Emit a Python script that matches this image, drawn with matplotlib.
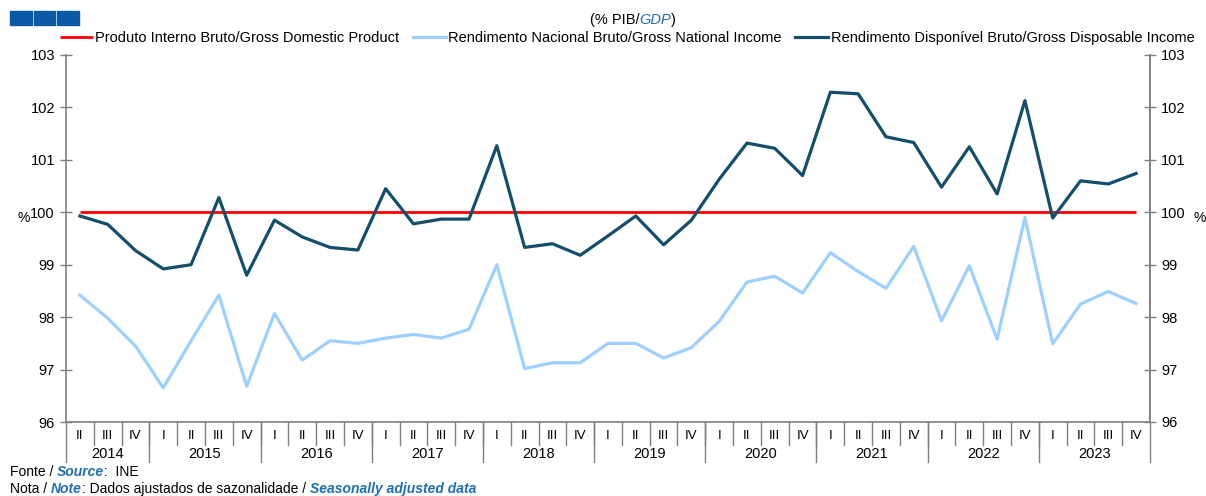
import matplotlib
matplotlib.use("Agg")
import matplotlib.pyplot as plt
import matplotlib.transforms as mtransforms
from matplotlib.patches import Rectangle

plt.rcParams['font.family'] = ['Liberation Sans', 'DejaVu Sans']

years = ["2014", "2015", "2016", "2017", "2018", "2019", "2020", "2021", "2022", "2023"]
quarters_per_year = [3, 4, 4, 4, 4, 4, 4, 4, 4, 4]
first_quarter = ["II", "III", "IV"]
all_quarters = ["I", "II", "III", "IV"]

quarter_labels = first_quarter + all_quarters * 9

pib = [100.0] * 39

rnb = [98.42, 97.98, 97.45, 96.65, 97.55, 98.42, 96.68, 98.07, 97.18, 97.55,
       97.50, 97.60, 97.67, 97.60, 97.77, 99.00, 97.02, 97.13, 97.13, 97.50,
       97.50, 97.22, 97.42, 97.92, 98.67, 98.78, 98.46, 99.23, 98.87, 98.55,
       99.35, 97.93, 98.98, 97.58, 99.90, 97.49, 98.25, 98.49, 98.26]

rdb = [99.93, 99.77, 99.27, 98.92, 99.00, 100.28, 98.80, 99.85, 99.53, 99.33,
       99.28, 100.45, 99.78, 99.87, 99.87, 101.27, 99.33, 99.40, 99.18, 99.55,
       99.93, 99.38, 99.85, 100.63, 101.32, 101.22, 100.70, 102.29, 102.26, 101.44,
       101.33, 100.48, 101.25, 100.35, 102.13, 99.89, 100.60, 100.54, 100.74]

x = list(range(len(quarter_labels)))

fig = plt.figure(figsize=(12.06, 4.96), dpi=100)
ax = fig.add_axes([66 / 1206, 1 - 422 / 496, (1150 - 66) / 1206, (422 - 55) / 496])

red = "#FF0000"
light = "#9DD0FF"
dark = "#134F6C"
grey = "#7F7F7F"
blue = "#1F6FB5"

l1, = ax.plot(x, pib, color=red, lw=2.0, solid_capstyle="butt")
l2, = ax.plot(x, rnb, color=light, lw=2.3)
l3, = ax.plot(x, rdb, color=dark, lw=2.3)

ax.set_xlim(-0.5, len(x) - 0.5)
ax.set_ylim(96, 103)
ax.set_yticks(range(96, 104))
ax.tick_params(axis="y", direction="inout", length=8, width=1, color=grey,
               labelsize=10.5, pad=4)
ax.set_xticks([])
ax.spines["top"].set_visible(False)
for s in ["left", "right", "bottom"]:
    ax.spines[s].set_color(grey)
    ax.spines[s].set_linewidth(1.2)

ax2 = ax.twinx()
ax2.set_ylim(96, 103)
ax2.set_yticks(range(96, 104))
ax2.tick_params(axis="y", direction="inout", length=8, width=1, color=grey,
                labelsize=10.5, pad=4)
for s in ["top", "left", "bottom"]:
    ax2.spines[s].set_visible(False)
ax2.spines["right"].set_color(grey)
ax2.spines["right"].set_linewidth(1.2)

# category axis below the plot
trans = mtransforms.blended_transform_factory(ax.transData, ax.transAxes)
for i, q in enumerate(quarter_labels):
    ax.text(i, -0.038, q, transform=trans, ha="center", va="center", fontsize=9.5)
    if i > 0:
        ax.plot([i - 0.5, i - 0.5], [0, -0.063], transform=trans, color=grey,
                lw=1, clip_on=False)

start = -0.5
for yr, n in zip(years, quarters_per_year):
    ax.plot([start, start], [0, -0.109], transform=trans, color=grey, lw=1, clip_on=False)
    ax.text(start + n / 2, -0.087, yr, transform=trans, ha="center", va="center",
            fontsize=10.5)
    start += n
ax.plot([start, start], [0, -0.109], transform=trans, color=grey, lw=1, clip_on=False)

# % labels
fig.text(24 / 1206, 1 - 218 / 496, "%", ha="center", va="center", fontsize=10)
fig.text(1200 / 1206, 1 - 218 / 496, "%", ha="center", va="center", fontsize=10)

# legend
fig.legend([l1, l2, l3],
           ["Produto Interno Bruto/Gross Domestic Product",
            "Rendimento Nacional Bruto/Gross National Income",
            "Rendimento Disponível Bruto/Gross Disposable Income"],
           loc="center", bbox_to_anchor=(627 / 1206, 1 - 38 / 496), ncol=3,
           frameon=False, fontsize=10.5, handlelength=2.3, handletextpad=0.15,
           columnspacing=0.9, borderaxespad=0, borderpad=0)

# title
t1 = fig.text(590 / 1206, 1 - 20 / 496, "(% PIB/", ha="left", va="center", fontsize=10.5)
t2 = ax.annotate("GDP", xy=(1, 0), xycoords=t1, va="bottom", ha="left",
                 fontsize=10.5, color=blue, style="italic")
ax.annotate(")", xy=(1, 0), xycoords=t2, va="bottom", ha="left", fontsize=10.5)

# top-left blue squares
for x0 in [10, 33.5, 57]:
    fig.patches.append(Rectangle((x0 / 1206, 1 - 25 / 496), 21.5 / 1206, 14 / 496,
                                 transform=fig.transFigure, color="#0B5AA5"))

# footer
f1 = fig.text(10 / 1206, 1 - 472 / 496, "Fonte / ", ha="left", va="center", fontsize=10)
f2 = ax.annotate("Source", xy=(1, 0), xycoords=f1, va="bottom", ha="left", fontsize=10,
                 color=blue, style="italic", weight="bold")
ax.annotate(":  INE", xy=(1, 0), xycoords=f2, va="bottom", ha="left", fontsize=10)

n1 = fig.text(10 / 1206, 1 - 489 / 496, "Nota / ", ha="left", va="center", fontsize=10)
n2 = ax.annotate("Note", xy=(1, 0), xycoords=n1, va="bottom", ha="left", fontsize=10,
                 color=blue, style="italic", weight="bold")
n3 = ax.annotate(": Dados ajustados de sazonalidade / ", xy=(1, 0), xycoords=n2,
                 va="bottom", ha="left", fontsize=10)
ax.annotate("Seasonally adjusted data", xy=(1, 0), xycoords=n3, va="bottom", ha="left",
            fontsize=10, color=blue, style="italic", weight="bold")

fig.savefig("out.png", dpi=100)
